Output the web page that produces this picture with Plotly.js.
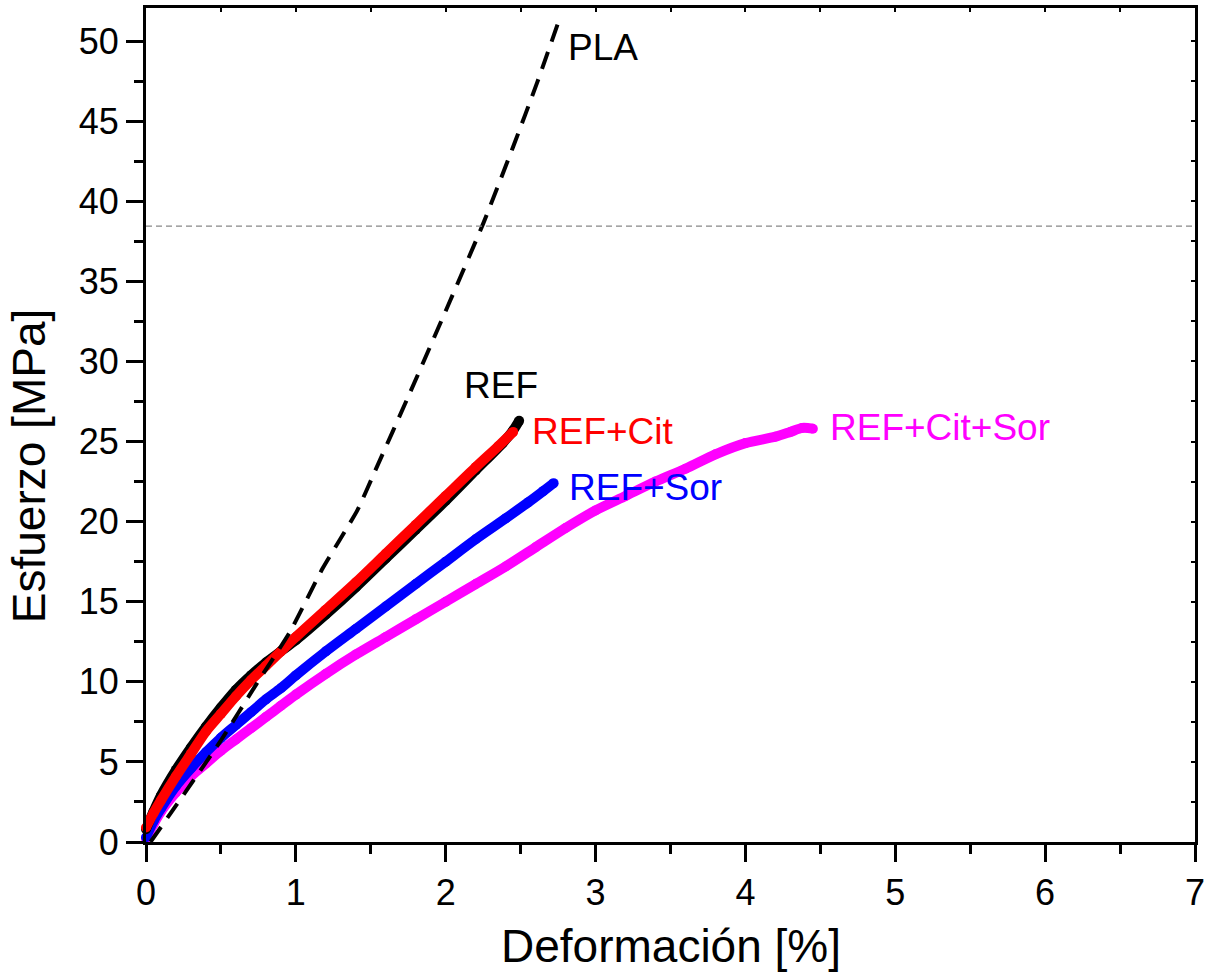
<!DOCTYPE html>
<html>
<head>
<meta charset="utf-8">
<script src="https://cdn.plot.ly/plotly-3.0.1.min.js"></script>
<style>html,body{margin:0;padding:0;background:#fff;}#chart{width:1211px;height:975px;}</style>
</head>
<body>
<div id="chart"></div>
<script>
// ---- data ----
const plaX = [0.03, 0.18, 0.49, 0.74, 0.96, 1.18, 1.41, 1.54, 1.75, 2.03, 2.25, 2.45, 2.61, 2.76];
const plaY = [0, 2.0, 6.2, 9.9, 13.1, 17.1, 20.7, 23.4, 27.8, 33.8, 38.6, 43.4, 47.4, 51.4];

const refX = [0, 0.05, 0.1, 0.2, 0.3, 0.4, 0.5, 0.6, 0.7, 0.8, 0.9, 1.0, 1.2, 1.4, 1.6, 1.8, 2.0, 2.2, 2.38, 2.45, 2.49];
const refY = [0.8, 1.9, 2.9, 4.5, 5.9, 7.2, 8.4, 9.5, 10.4, 11.2, 11.9, 12.6, 14.2, 15.9, 17.7, 19.5, 21.3, 23.2, 24.9, 25.7, 26.3];

const citX = [0, 0.05, 0.1, 0.2, 0.3, 0.4, 0.5, 0.6, 0.7, 0.8, 0.9, 1.0, 1.2, 1.4, 1.6, 1.8, 2.0, 2.2, 2.35, 2.45];
const citY = [0.9, 1.8, 2.6, 4.1, 5.5, 6.9, 8.0, 9.1, 10.1, 11.0, 11.9, 12.8, 14.5, 16.2, 18.0, 19.8, 21.6, 23.4, 24.7, 25.6];

const sorX = [0, 0.05, 0.1, 0.2, 0.3, 0.4, 0.5, 0.6, 0.7, 0.8, 0.9, 1.0, 1.2, 1.4, 1.6, 1.8, 2.0, 2.2, 2.4, 2.55, 2.65, 2.72];
const sorY = [0.3, 1.3, 2.1, 3.5, 4.6, 5.6, 6.5, 7.3, 8.1, 8.9, 9.6, 10.4, 11.9, 13.3, 14.7, 16.1, 17.5, 18.9, 20.2, 21.2, 21.9, 22.4];

const citSorX = [0, 0.05, 0.1, 0.2, 0.3, 0.4, 0.5, 0.6, 0.7, 0.8, 0.9, 1.0, 1.2, 1.4, 1.6, 1.8, 2.0, 2.2, 2.4, 2.6, 2.8, 3.0, 3.2, 3.4, 3.6, 3.8, 4.0, 4.2, 4.3, 4.38, 4.45];
const citSorY = [0.2, 1.1, 1.9, 3.1, 4.1, 4.9, 5.7, 6.4, 7.1, 7.8, 8.5, 9.2, 10.5, 11.7, 12.8, 13.9, 15.0, 16.1, 17.2, 18.4, 19.6, 20.7, 21.6, 22.5, 23.3, 24.2, 24.9, 25.3, 25.6, 25.85, 25.8];

const refLine = 38.45;

const labels = ["PLA", "REF", "REF+Cit", "REF+Sor", "REF+Cit+Sor"];
const labelX = [3.05, 2.37, 3.05, 3.33, 5.3];
const labelY = [49.6, 28.5, 25.65, 22.1, 25.85];
const labelColors = ["#000000", "#000000", "#ff0000", "#0000ff", "#ff00ff"];

// ---- traces ----
function solid(x, y, color, name) {
  return {x: x, y: y, type: 'scatter', mode: 'lines+markers', name: name,
    line: {color: color, width: 10, shape: 'spline', smoothing: 0.8},
    marker: {color: color, size: 10}, cliponaxis: false, hoverinfo: 'x+y'};
}
const traces = [
  solid(citSorX, citSorY, '#ff00ff', 'REF+Cit+Sor'),
  solid(sorX, sorY, '#0000ff', 'REF+Sor'),
  solid(refX, refY, '#000000', 'REF'),
  solid(citX, citY, '#ff0000', 'REF+Cit'),
  {x: plaX, y: plaY, type: 'scatter', mode: 'lines', name: 'PLA',
   line: {color: '#000000', width: 4, dash: '18px,11px', shape: 'spline', smoothing: 0.5}},
  {x: [], y: [], xaxis: 'x2', yaxis: 'y2', type: 'scatter', showlegend: false}
];

const annotations = labels.map((t, i) => ({
  x: labelX[i], y: labelY[i], xref: 'x', yref: 'y', text: t, showarrow: false,
  font: {family: 'Liberation Sans, Arial, sans-serif', size: 37, color: labelColors[i]},
  xanchor: 'center', yanchor: 'middle'
}));
annotations.push({
  x: 0.5, y: -0.125, xref: 'paper', yref: 'paper', text: 'Deformación [%]', showarrow: false,
  font: {family: 'Liberation Sans, Arial, sans-serif', size: 46, color: '#000'},
  xanchor: 'center', yanchor: 'middle'
});
annotations.push({
  x: -0.112, y: 0.45, xref: 'paper', yref: 'paper', text: 'Esfuerzo [MPa]', showarrow: false,
  textangle: -90,
  font: {family: 'Liberation Sans, Arial, sans-serif', size: 46, color: '#000'},
  xanchor: 'center', yanchor: 'middle'
});

const tickFont = {family: 'Liberation Sans, Arial, sans-serif', size: 36, color: '#000'};

const layout = {
  width: 1211, height: 975,
  margin: {l: 146, r: 16, t: 8, b: 133, pad: 0},
  paper_bgcolor: '#ffffff', plot_bgcolor: '#ffffff',
  showlegend: false,
  xaxis: {
    range: [0, 7], dtick: 1, tick0: 0, showgrid: false, zeroline: false,
    showline: true, linecolor: '#000', linewidth: 3, mirror: true,
    ticks: 'outside', ticklen: 17, tickwidth: 3, tickcolor: '#000',
    minor: {dtick: 0.5, ticks: 'outside', ticklen: 9, tickwidth: 3, tickcolor: '#000', showgrid: false},
    tickfont: tickFont
  },
  yaxis: {
    range: [0, 52.06], dtick: 5, tick0: 0, showgrid: false, zeroline: false,
    showline: true, linecolor: '#000', linewidth: 3, mirror: true,
    ticks: 'outside', ticklen: 17, tickwidth: 3, tickcolor: '#000',
    minor: {dtick: 2.5, ticks: 'outside', ticklen: 9, tickwidth: 3, tickcolor: '#000', showgrid: false},
    tickfont: tickFont
  },
  xaxis2: {
    overlaying: 'x', side: 'top', anchor: 'y2', range: [0, 7], dtick: 0.5,
    showgrid: false, zeroline: false, showline: false, showticklabels: false,
    ticks: 'inside', ticklen: 4, tickwidth: 2, tickcolor: '#000'
  },
  yaxis2: {
    overlaying: 'y', side: 'right', anchor: 'x2', range: [0, 52.06], dtick: 2.5,
    showgrid: false, zeroline: false, showline: false, showticklabels: false,
    ticks: 'inside', ticklen: 4, tickwidth: 2, tickcolor: '#000'
  },
  shapes: [{
    type: 'line', xref: 'paper', x0: 0, x1: 1, yref: 'y', y0: refLine, y1: refLine,
    line: {color: '#888888', width: 1.2, dash: '6px,4px'}
  }],
  annotations: annotations
};

Plotly.newPlot('chart', traces, layout, {staticPlot: true, displayModeBar: false});
</script>
</body>
</html>
